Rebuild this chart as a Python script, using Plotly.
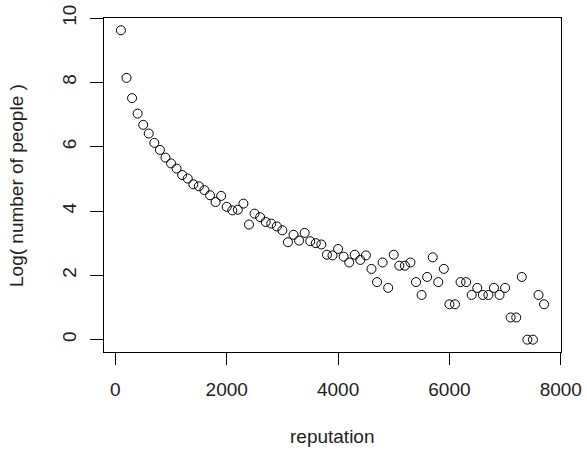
import plotly.graph_objects as go

reputation = [100, 200, 300, 400, 500, 600, 700, 800, 900, 1000,
              1100, 1200, 1300, 1400, 1500, 1600, 1700, 1800, 1900, 2000,
              2100, 2200, 2300, 2400, 2500, 2600, 2700, 2800, 2900, 3000,
              3100, 3200, 3300, 3400, 3500, 3600, 3700, 3800, 3900, 4000,
              4100, 4200, 4300, 4400, 4500, 4600, 4700, 4800, 4900, 5000,
              5100, 5200, 5300, 5400, 5500, 5600, 5700, 5800, 5900, 6000,
              6100, 6200, 6300, 6400, 6500, 6600, 6700, 6800, 6900, 7000,
              7100, 7200, 7300, 7400, 7500, 7600, 7700]
log_people = [9.62, 8.14, 7.51, 7.03, 6.68, 6.41, 6.12, 5.90, 5.66, 5.48,
              5.32, 5.12, 5.01, 4.83, 4.77, 4.65, 4.49, 4.28, 4.47, 4.13,
              4.02, 4.04, 4.23, 3.58, 3.92, 3.81, 3.66, 3.61, 3.52, 3.40,
              3.03, 3.26, 3.08, 3.32, 3.06, 3.00, 2.96, 2.64, 2.62, 2.82,
              2.58, 2.40, 2.64, 2.48, 2.62, 2.20, 1.79, 2.40, 1.61, 2.64,
              2.30, 2.30, 2.40, 1.79, 1.39, 1.95, 2.56, 1.79, 2.20, 1.10,
              1.10, 1.79, 1.79, 1.39, 1.61, 1.39, 1.39, 1.61, 1.39, 1.61,
              0.69, 0.69, 1.95, 0.00, 0.00, 1.39, 1.10]

x_ticks = [0, 2000, 4000, 6000, 8000]
y_ticks = [0, 2, 4, 6, 8, 10]

FONT = "Liberation Sans, Arial, sans-serif"

fig = go.Figure(go.Scatter(
    x=reputation, y=log_people, mode="markers",
    marker=dict(symbol="circle-open", size=9, color="black",
                line=dict(width=1, color="black")),
    showlegend=False, hoverinfo="x+y"))

fig.update_layout(
    width=587, height=452,
    margin=dict(l=104, r=26, t=18, b=100, autoexpand=False),
    paper_bgcolor="white", plot_bgcolor="white",
    font=dict(family=FONT, size=19, color="black"),
    xaxis=dict(range=[-204, 8004], tickvals=x_ticks,
               ticktext=[str(v) for v in x_ticks],
               showgrid=False, zeroline=False, automargin=False,
               showline=True, mirror=True, linecolor="black", linewidth=1,
               ticks="outside", ticklen=12, tickwidth=1, tickcolor="black",
               ticklabelstandoff=8,
               tickfont=dict(family=FONT, size=19, color="#222")),
    yaxis=dict(range=[-0.384, 10.002], tickvals=y_ticks,
               ticktext=[str(v) for v in y_ticks],
               showgrid=False, zeroline=False, automargin=False,
               showline=True, mirror=True, linecolor="black", linewidth=1,
               ticks="outside", ticklen=13, tickwidth=1, tickcolor="black",
               tickangle=-90, ticklabelstandoff=6,
               tickfont=dict(family=FONT, size=19, color="#222")),
    annotations=[
        dict(text="reputation", xref="paper", yref="paper",
             x=0.5, y=-0.2515, xanchor="center", yanchor="middle",
             showarrow=False, font=dict(family=FONT, size=19, color="#222")),
        dict(text="Log( number of people )", xref="paper", yref="paper",
             x=-0.1926, y=0.5, xanchor="center", yanchor="middle",
             textangle=-90, showarrow=False,
             font=dict(family=FONT, size=19, color="#222")),
    ],
)

fig.write_html("out.html",
               config={"displayModeBar": False},
               post_script="document.body.style.margin='0';")
